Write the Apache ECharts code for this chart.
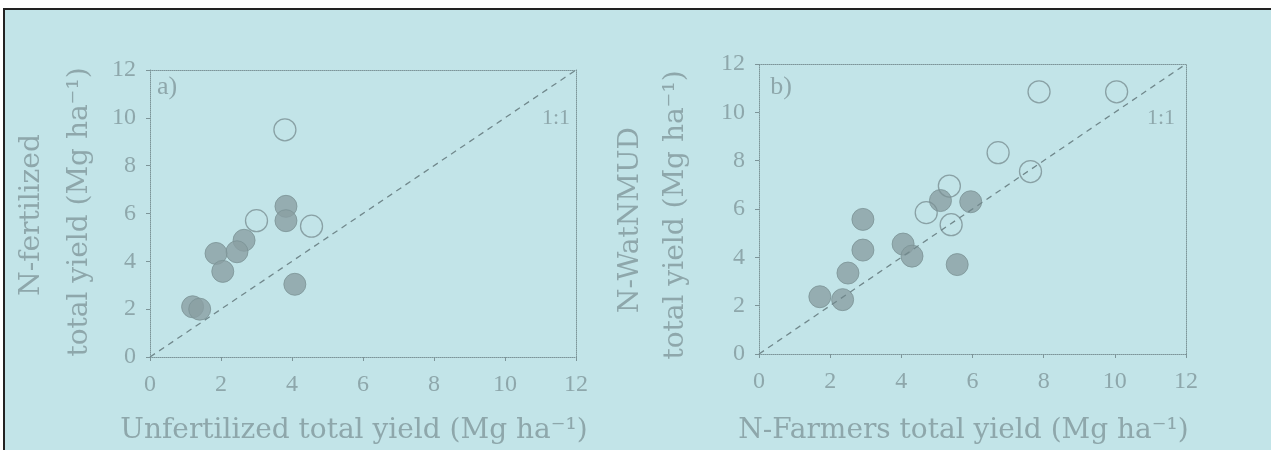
<!DOCTYPE html>
<html><head><meta charset="utf-8">
<script src="https://cdn.jsdelivr.net/npm/echarts@6/dist/echarts.min.js"></script>
<style>html,body{margin:0;padding:0;background:#fff}#c{width:1271px;height:450px}</style>
</head><body><div id="c"></div>
<script>
// ---- data ----
const tickValues = [0, 2, 4, 6, 8, 10, 12];
const panelLabels = ['a)', 'b)'];
const xTitles = ['Unfertilized total yield (Mg ha⁻¹)', 'N-Farmers total yield (Mg ha⁻¹)'];
const yTitlesOuter = ['N-fertilized', 'N-WatNMUD'];
const yTitleInner = 'total yield (Mg ha⁻¹)';
const oneToOneLabel = '1:1';
const oneToOne = [[0, 0], [12, 12]];
// panel a: x = unfertilized, y = N-fertilized
const aFilled = [[3.83, 6.3], [3.83, 5.7], [2.65, 4.88], [2.45, 4.4], [1.86, 4.33], [2.05, 3.58], [4.08, 3.04], [1.2, 2.1], [1.4, 2.0]];
const aOpen = [[3.8, 9.5], [3.0, 5.7], [4.55, 5.47]];
// panel b: x = N-Farmers, y = N-WatNMUD
const bFilled = [[5.1, 6.35], [5.95, 6.3], [2.92, 5.57], [2.92, 4.3], [4.05, 4.55], [4.3, 4.05], [5.57, 3.7], [2.5, 3.35], [1.71, 2.37], [2.35, 2.25]];
const bOpen = [[7.87, 10.85], [10.05, 10.85], [6.72, 8.33], [7.63, 7.55], [5.35, 6.95], [4.7, 5.85], [5.4, 5.35]];

// ---- styles ----
const FONT = '"Liberation Serif", "Times New Roman", serif';
const TFONT = '"DejaVu Serif", serif';
const BG = '#c2e4e8';
const TXT = '#8ea7ab';
const AX = '#7d9599';
const FILL = '#8a9fa2';
const OPEN = '#7a9094';

const grids = [
  {left: 150, top: 70, width: 426, height: 288},
  {left: 759, top: 64, width: 427, height: 291}
];
const nameGaps = [60, 63];

function axisBase(extra) {
  return Object.assign({
    type: 'value', min: 0, max: 12, interval: 2,
    splitLine: {show: false},
    axisLine: {show: true, onZero: false, lineStyle: {color: AX, type: 'dotted', width: 1}},
  }, extra);
}

const xAxes = [], yAxes = [];
[0, 1].forEach(i => {
  xAxes.push(axisBase({
    gridIndex: i, position: 'bottom',
    axisTick: {show: true, length: 4, lineStyle: {color: AX}},
    axisLabel: {show: true, fontFamily: FONT, fontSize: 24, color: TXT, margin: 16,
      formatter: v => tickValues.includes(v) ? String(v) : ''},
    name: xTitles[i], nameLocation: 'middle', nameGap: nameGaps[i],
    nameTextStyle: {fontFamily: TFONT, fontSize: 28, color: TXT, padding: [0, 18, 0, 0]}
  }));
  xAxes.push(axisBase({gridIndex: i, position: 'top', axisTick: {show: false}, axisLabel: {show: false}}));
  yAxes.push(axisBase({
    gridIndex: i, position: 'left',
    axisTick: {show: true, length: 4, lineStyle: {color: AX}},
    axisLabel: {show: true, fontFamily: FONT, fontSize: 24, color: TXT, margin: 14,
      formatter: v => tickValues.includes(v) ? String(v) : ''}
  }));
  yAxes.push(axisBase({gridIndex: i, position: 'right', axisTick: {show: false}, axisLabel: {show: false}}));
});

function scatter(data, i, filled) {
  return {
    type: 'scatter', xAxisIndex: 2 * i, yAxisIndex: 2 * i, data: data,
    symbol: 'circle', symbolSize: 22, z: filled ? 3 : 4,
    itemStyle: filled ? {color: FILL, borderColor: '#7c9396', borderWidth: 1}
                      : {color: 'rgba(0,0,0,0)', borderColor: OPEN, borderWidth: 1.3}
  };
}
function line(i) {
  return {
    type: 'line', xAxisIndex: 2 * i, yAxisIndex: 2 * i, data: oneToOne,
    showSymbol: false, z: 5, silent: true,
    lineStyle: {color: '#71888c', width: 1.3, type: [6, 5]}
  };
}

const series = [
  scatter(aFilled, 0, true), scatter(aOpen, 0, false), line(0),
  scatter(bFilled, 1, true), scatter(bOpen, 1, false), line(1)
];

function txt(x, y, text, size, rot, font) {
  return {
    type: 'text', x: x, y: y, rotation: rot || 0, z: 10, silent: true,
    style: {text: text, fill: TXT, font: size + 'px ' + (font || FONT),
      align: 'center', verticalAlign: 'middle', textAlign: 'center', textVerticalAlign: 'middle'}
  };
}

const graphic = [
  {type: 'rect', z: -100, silent: true, shape: {x: 4, y: 9, width: 1300, height: 500},
    style: {fill: BG, stroke: '#222', lineWidth: 2}},
  txt(32, 215, yTitlesOuter[0], 28, Math.PI / 2, TFONT),
  txt(80, 212, yTitleInner, 28, Math.PI / 2, TFONT),
  txt(631, 220, yTitlesOuter[1], 28, Math.PI / 2, TFONT),
  txt(676, 215, yTitleInner, 28, Math.PI / 2, TFONT),
  txt(167, 87, panelLabels[0], 26),
  txt(781, 87, panelLabels[1], 26),
  txt(556, 118, oneToOneLabel, 22),
  txt(1161, 118, oneToOneLabel, 22)
];

const chart = echarts.init(document.getElementById('c'), null, {renderer: 'canvas'});
chart.setOption({
  backgroundColor: '#ffffff',
  animation: false,
  grid: grids,
  xAxis: xAxes,
  yAxis: yAxes,
  series: series,
  graphic: graphic
});
</script></body></html>
